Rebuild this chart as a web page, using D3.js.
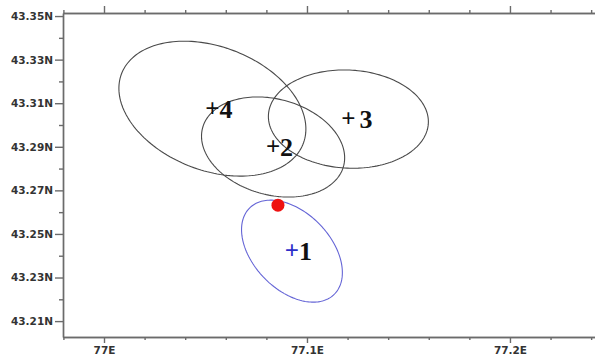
<!DOCTYPE html>
<html>
<head>
<meta charset="utf-8">
<script src="https://cdn.jsdelivr.net/npm/d3@7"></script>
<style>
  body { margin: 0; background: #fff; }
  .axis text { font-family: "DejaVu Sans", sans-serif; font-weight: bold; font-size: 10.5px; fill: #333; }
  .axis path, .axis line { stroke: #6b6b6b; stroke-width: 1.4; }
  .mark { font-family: "Liberation Serif", serif; font-weight: bold; }
</style>
</head>
<body>
<div id="chart"></div>
<script>
// chart size
const width = 595;
const height = 358;

// event locations and error ellipses (km)
const events = ["1", "2", "3", "4"];
const lon = [77.0926, 77.0833, 77.1204, 77.0534];
const lat = [43.2421, 43.2899, 43.3027, 43.3075];
const semiMajorKm = [2.83, 3.02, 3.20, 4.11];
const semiMinorKm = [1.68, 2.36, 2.50, 2.98];
const azimuthDeg = [150.8, 121.3, 96.2, 127.5];
const eventColor = ["#2e2ec8", "#111", "#111", "#111"];
const ellipseColor = ["#6565d6", "#4a4a4a", "#4a4a4a", "#4a4a4a"];

// red dot
const dotLon = [77.0857];
const dotLat = [43.2632];

// ticks
const xMajor = [77, 77.1, 77.2];
const xLabels = ["77E", "77.1E", "77.2E"];
const xMinor = [76.98, 77.02, 77.04, 77.06, 77.08, 77.12, 77.14, 77.16, 77.18, 77.22, 77.24];
const yMajor = [43.21, 43.23, 43.25, 43.27, 43.29, 43.31, 43.33, 43.35];
const yLabels = ["43.21N", "43.23N", "43.25N", "43.27N", "43.29N", "43.31N", "43.33N", "43.35N"];
const yMinor = [43.22, 43.24, 43.26, 43.28, 43.30, 43.32, 43.34];

const svg = d3.select('#chart')
  .append('svg')
  .attr('width', width)
  .attr('height', height);

// scales
const x = d3.scaleLinear()
  .domain([76.9798, 77.2419])
  .range([63, 595]);

const y = d3.scaleLinear()
  .domain([43.2027, 43.3514])
  .range([337, 13]);

// bottom axis
svg.append('g')
  .attr('class', 'axis')
  .attr('transform', `translate(0,${y.range()[0]})`)
  .call(d3.axisBottom(x).tickValues(xMajor).tickSize(6).tickSizeOuter(0).tickPadding(4)
    .tickFormat((d, i) => xLabels[i]));

svg.append('g')
  .attr('class', 'axis')
  .attr('transform', `translate(0,${y.range()[0]})`)
  .call(d3.axisBottom(x).tickValues(xMinor).tickSize(3).tickSizeOuter(0).tickFormat(''));

// top axis
svg.append('g')
  .attr('class', 'axis')
  .attr('transform', `translate(0,${y.range()[1]})`)
  .call(d3.axisTop(x).tickValues(xMajor).tickSize(7).tickSizeOuter(0).tickFormat(''));

svg.append('g')
  .attr('class', 'axis')
  .attr('transform', `translate(0,${y.range()[1]})`)
  .call(d3.axisTop(x).tickValues(xMinor).tickSize(3).tickSizeOuter(0).tickFormat(''));

// left axis
svg.append('g')
  .attr('class', 'axis')
  .attr('transform', `translate(${x.range()[0]},0)`)
  .call(d3.axisLeft(y).tickValues(yMajor).tickSize(8).tickSizeOuter(0).tickPadding(2)
    .tickFormat((d, i) => yLabels[i]));

svg.append('g')
  .attr('class', 'axis')
  .attr('transform', `translate(${x.range()[0]},0)`)
  .call(d3.axisLeft(y).tickValues(yMinor).tickSize(4).tickSizeOuter(0).tickFormat(''));

// ellipse outline in lon/lat from km axes
function ellipsePoints(i) {
  const kmLat = 111.2;
  const kmLon = 111.32 * Math.cos(lat[i] * Math.PI / 180);
  const phi = azimuthDeg[i] * Math.PI / 180;
  const pts = [];
  for (let k = 0; k < 180; k++) {
    const t = k / 180 * 2 * Math.PI;
    const a = semiMajorKm[i] * Math.cos(t);
    const b = semiMinorKm[i] * Math.sin(t);
    const east = a * Math.sin(phi) + b * Math.cos(phi);
    const north = a * Math.cos(phi) - b * Math.sin(phi);
    pts.push([lon[i] + east / kmLon, lat[i] + north / kmLat]);
  }
  return pts;
}

const line = d3.line()
  .x(d => x(d[0]))
  .y(d => y(d[1]))
  .curve(d3.curveLinearClosed);

svg.append('g')
  .selectAll('path')
  .data(events)
  .enter()
  .append('path')
  .attr('d', (d, i) => line(ellipsePoints(i)))
  .attr('fill', 'none')
  .attr('stroke', (d, i) => ellipseColor[i])
  .attr('stroke-width', 1.1);

// red dot
svg.append('circle')
  .attr('cx', x(dotLon[0]))
  .attr('cy', y(dotLat[0]))
  .attr('r', 6.5)
  .attr('fill', '#ee1111');

// plus markers and numbers
const marks = svg.append('g')
  .selectAll('g')
  .data(events)
  .enter()
  .append('g')
  .attr('transform', (d, i) => `translate(${x(lon[i])},${y(lat[i])})`);

marks.append('text')
  .attr('class', 'mark')
  .attr('text-anchor', 'middle')
  .attr('y', 8)
  .attr('font-size', 25)
  .attr('fill', (d, i) => eventColor[i])
  .text('+');

marks.append('text')
  .attr('class', 'mark')
  .attr('x', d => d === '3' ? 11 : 7)
  .attr('y', 9)
  .attr('font-size', 26)
  .attr('fill', '#111')
  .text(d => d);
</script>
</body>
</html>
